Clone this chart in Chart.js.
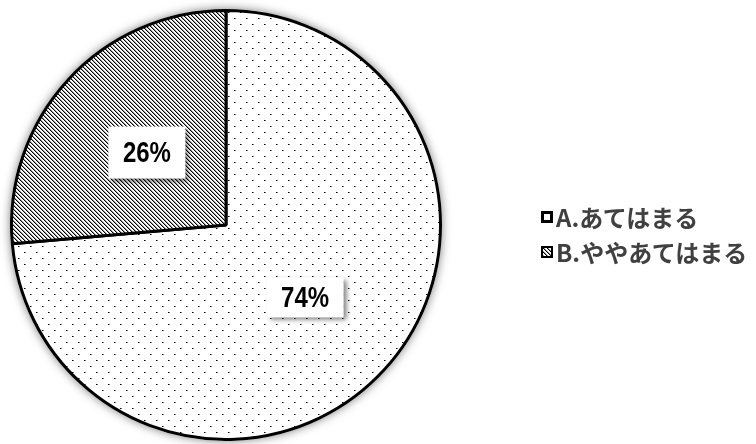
<!DOCTYPE html>
<html>
<head>
<meta charset="utf-8">
<script src="https://cdn.jsdelivr.net/npm/chart.js@4.4.0/dist/chart.umd.min.js"></script>
<style>
    html, body { margin: 0; padding: 0; background: #fff; }
    #wrap { position: relative; width: 756px; height: 444px; }
    #legend {
        position: absolute; left: 541px; top: 199px; margin: 0; padding: 0; list-style: none;
        font-family: "Noto Sans CJK JP", sans-serif; font-size: 24px; font-weight: bold; color: #404040;
    }
    #legend li { display: flex; align-items: center; height: 35px; white-space: nowrap; }
    #legend canvas { margin-right: 3px; }
</style>
</head>
<body>
<div id="wrap">
    <canvas id="pie" width="756" height="444"></canvas>
    <ul id="legend"></ul>
</div>
<script>
const categories = ['A.あてはまる', 'B.ややあてはまる'];
const shares = [73.6, 26.4];

// pattern tiles: sparse dots for A, dense back-slash hatch for B
const makeTile = function(size, draw){
    let c = document.createElement('canvas');
    c.width = size;
    c.height = size;
    let g = c.getContext('2d');
    g.fillStyle = '#fff';
    g.fillRect(0, 0, size, size);
    draw(g);
    return c;
};

const dotTile = makeTile(12, function(g){
    for (const p of [[0, 0], [6, 6]]) {
        g.fillStyle = '#000';
        g.fillRect(p[0], p[1], 1, 1);
        g.fillStyle = '#777';
        g.fillRect(p[0] + 1, p[1], 1, 1);
    }
});

const hatchTile = makeTile(4, function(g){
    for (let i = 0; i < 4; i++) {
        g.fillStyle = '#000';
        g.fillRect(i, i, 1, 1);
        g.fillStyle = '#999';
        g.fillRect((i + 1) % 4, i, 1, 1);
    }
});

const ctx = document.getElementById('pie').getContext('2d');
const fills = [ctx.createPattern(dotTile, 'repeat'), ctx.createPattern(hatchTile, 'repeat')];

const pieShadow = {
    id: 'pieShadow',
    beforeDatasetsDraw(chart){
        let arc = chart.getDatasetMeta(0).data[0];
        let c = chart.ctx;
        c.save();
        c.shadowColor = 'rgba(0,0,0,0.5)';
        c.shadowBlur = 10;
        c.fillStyle = '#fff';
        c.beginPath();
        c.arc(arc.x, arc.y, arc.outerRadius + 1.5, 0, Math.PI * 2);
        c.fill();
        c.restore();
    }
};

const boxLabels = {
    id: 'boxLabels',
    afterDatasetsDraw(chart){
        let c = chart.ctx;
        let heights = [40, 52];
        chart.getDatasetMeta(0).data.forEach((arc, i) => {
            let pos = arc.tooltipPosition();
            let text = Math.round(shares[i]) + '%';
            c.save();
            c.font = 'bold 30px "Liberation Sans", Arial, sans-serif';
            let w = c.measureText(text).width * 0.8 + 29;
            let h = heights[i];
            c.shadowColor = 'rgba(0,0,0,0.5)';
            c.shadowBlur = 5;
            c.shadowOffsetX = 3;
            c.shadowOffsetY = 3;
            c.fillStyle = '#fff';
            c.fillRect(pos.x - w / 2, pos.y - h / 2, w, h);
            c.shadowColor = 'transparent';
            c.translate(pos.x, pos.y + 1);
            c.scale(0.8, 1);
            c.fillStyle = '#000';
            c.textAlign = 'center';
            c.textBaseline = 'middle';
            c.fillText(text, 0, 0);
            c.restore();
        });
    }
};

const htmlLegend = {
    id: 'htmlLegend',
    afterUpdate(chart){
        let ul = document.getElementById('legend');
        ul.innerHTML = '';
        chart.data.labels.forEach((label, i) => {
            let li = document.createElement('li');
            let sw = document.createElement('canvas');
            sw.width = 12;
            sw.height = 12;
            let g = sw.getContext('2d');
            g.fillStyle = '#000';
            g.fillRect(0, 0, 12, 12);
            if(i === 0){
                g.fillStyle = '#fff';
                g.fillRect(3, 3, 6, 6);
            }else{
                g.fillStyle = g.createPattern(hatchTile, 'repeat');
                g.fillRect(2, 2, 8, 8);
            }
            li.appendChild(sw);
            li.appendChild(document.createTextNode(label));
            ul.appendChild(li);
        });
    }
};

new Chart(ctx, {
    type: 'pie',
    data: {
        labels: categories,
        datasets: [{
            data: shares,
            backgroundColor: fills,
            borderColor: '#000',
            borderWidth: 3
        }]
    },
    options: {
        responsive: false,
        animation: false,
        layout: { padding: { left: 10, top: 9, bottom: 3, right: 314 } },
        plugins: {
            legend: { display: false },
            tooltip: { enabled: false }
        }
    },
    plugins: [pieShadow, boxLabels, htmlLegend]
});
</script>
</body>
</html>
